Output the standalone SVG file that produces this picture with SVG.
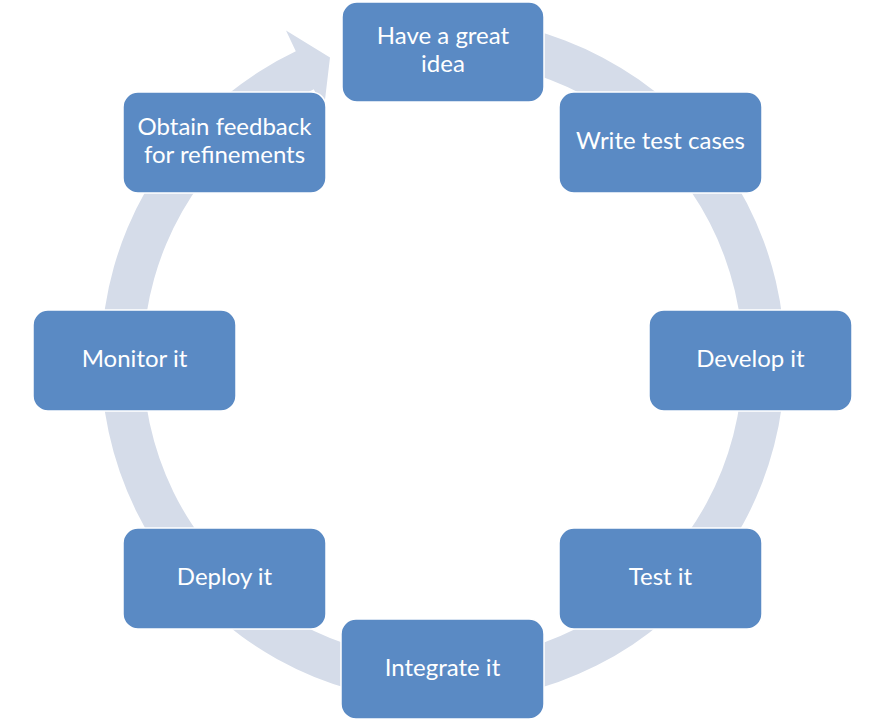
<svg xmlns="http://www.w3.org/2000/svg" width="894" height="720" viewBox="0 0 894 720">
<style>
.box{fill:#5A8AC4;stroke:#FFFFFF;stroke-width:1.5}
.lbl{font-family:Lato,"Open Sans","Liberation Sans",sans-serif;font-size:24px;fill:#FFFFFF;text-anchor:middle}
.ring{fill:#D5DCE9;stroke:none}
</style>
<rect width="894" height="720" fill="#FFFFFF"/>
<g id="connectors">
<path class="ring" d="M443,18 A342,342 0 1 1 295.8,51.3 L286,30.6 L330,57.5 L323.8,110 L313.8,89.2 A300,300 0 1 0 443,60 Z"/>
</g>
<g id="n1"><rect class="box" x="342" y="2" width="202" height="100" rx="15"/><text class="lbl" x="443" y="44">Have a great</text><text class="lbl" x="443" y="72">idea</text></g>
<g id="n2"><rect class="box" x="559" y="92" width="203" height="101" rx="15"/><text class="lbl" x="660.5" y="149">Write test cases</text></g>
<g id="n3"><rect class="box" x="649" y="310" width="203" height="101" rx="15"/><text class="lbl" x="750.5" y="367">Develop it</text></g>
<g id="n4"><rect class="box" x="559" y="528" width="203" height="101" rx="15"/><text class="lbl" x="660.5" y="585">Test it</text></g>
<g id="n5"><rect class="box" x="341" y="619" width="203" height="100" rx="15"/><text class="lbl" x="442.5" y="676">Integrate it</text></g>
<g id="n6"><rect class="box" x="123" y="528" width="203" height="101" rx="15"/><text class="lbl" x="224.5" y="585">Deploy it</text></g>
<g id="n7"><rect class="box" x="33" y="310" width="203" height="101" rx="15"/><text class="lbl" x="134.5" y="367">Monitor it</text></g>
<g id="n8"><rect class="box" x="123" y="92" width="203" height="101" rx="15"/><text class="lbl" x="224.5" y="135">Obtain feedback</text><text class="lbl" x="224.5" y="163">for refinements</text></g>
</svg>
